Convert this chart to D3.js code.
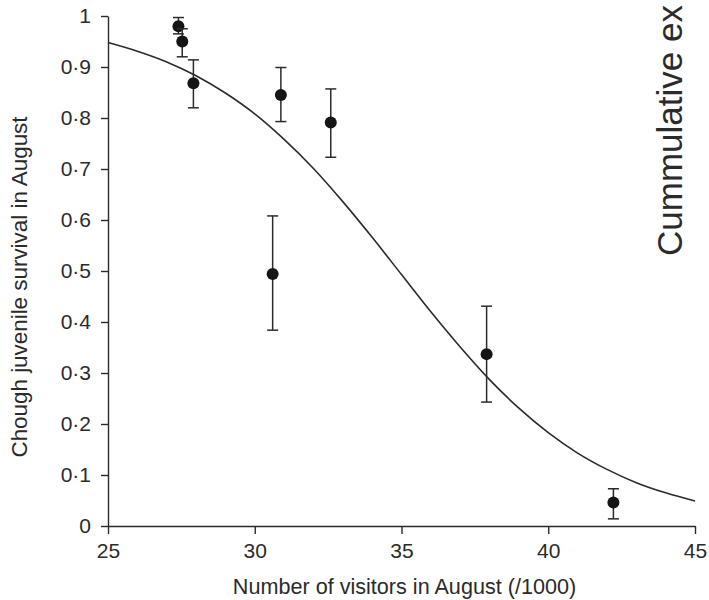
<!DOCTYPE html>
<html>
<head>
<meta charset="utf-8">
<script src="https://cdn.jsdelivr.net/npm/d3@7"></script>
<style>
  body { margin: 0; background: #fff; }
  svg { display: block; font-family: "Liberation Sans", Arial, sans-serif; }
</style>
</head>
<body>
<div id="chart"></div>
<script>
const WIDTH = 709;
const HEIGHT = 600;
const LEFT = 108;
const RIGHT = 695;
const TOP = 16;
const BOTTOM = 526;
const INK = '#2b2b2b';

// observed survival per year, with error bars
const visitors = [27.40, 27.53, 27.91, 30.61, 30.89, 32.59, 37.90, 42.22];
const survival = [0.980, 0.950, 0.868, 0.494, 0.845, 0.791, 0.337, 0.046];
const lowerBar = [0.965, 0.920, 0.820, 0.384, 0.793, 0.723, 0.243, 0.014];
const upperBar = [0.997, 0.975, 0.914, 0.608, 0.899, 0.857, 0.431, 0.073];

// fitted curve
const curveVisitors = [25, 26, 27, 28, 29, 30, 31, 32, 33, 34, 35, 36, 37, 38, 39, 40, 41, 42, 43, 44, 45];
const curveSurvival = [0.948, 0.931, 0.910, 0.883, 0.849, 0.808, 0.758, 0.701, 0.636, 0.566, 0.493,
                       0.420, 0.351, 0.287, 0.231, 0.183, 0.143, 0.111, 0.085, 0.065, 0.049];

const xTicks = [25, 30, 35, 40, 45];
const yTicks = [0, 0.1, 0.2, 0.3, 0.4, 0.5, 0.6, 0.7, 0.8, 0.9, 1];
const yTickLabels = ['0', '0·1', '0·2', '0·3', '0·4', '0·5', '0·6', '0·7', '0·8', '0·9', '1'];

const xTitle = 'Number of visitors in August (/1000)';
const yTitle = 'Chough juvenile survival in August';
const sideTitle = 'Cummulative ex';

let svg = d3.select('#chart').append('svg')
  .attr('width', WIDTH)
  .attr('height', HEIGHT);

let xScale = d3.scaleLinear().domain([25, 45]).range([LEFT, RIGHT]);
let yScale = d3.scaleLinear().domain([0, 1]).range([BOTTOM, TOP]);

function styleAxis(g, size) {
  g.selectAll('path, line')
    .attr('stroke', INK)
    .attr('stroke-width', 1.4);
  g.selectAll('text')
    .attr('fill', INK)
    .style('font-size', size + 'px');
}

let xAxis = d3.axisBottom(xScale)
  .tickValues(xTicks)
  .tickFormat(d3.format('d'))
  .tickSize(8)
  .tickSizeOuter(0)
  .tickPadding(9);

let yAxis = d3.axisLeft(yScale)
  .tickValues(yTicks)
  .tickFormat((d, i) => yTickLabels[i])
  .tickSize(7)
  .tickSizeOuter(0)
  .tickPadding(10);

svg.append('g')
  .attr('class', 'xAxis')
  .attr('transform', `translate(0, ${BOTTOM})`)
  .call(xAxis)
  .call((g) => styleAxis(g, 21));

svg.append('g')
  .attr('class', 'yAxis')
  .attr('transform', `translate(${LEFT}, 0)`)
  .call(yAxis)
  .call((g) => styleAxis(g, 21));

// fitted line
let line = d3.line()
  .x((d, i) => xScale(curveVisitors[i]))
  .y((d) => yScale(d))
  .curve(d3.curveMonotoneX);

svg.append('path')
  .datum(curveSurvival)
  .attr('d', line)
  .attr('fill', 'none')
  .attr('stroke', INK)
  .attr('stroke-width', 1.6);

// error bars + points
let pts = svg.append('g').attr('class', 'points')
  .selectAll('g')
  .data(visitors)
  .enter()
  .append('g');

pts.append('line')
  .attr('x1', (d) => xScale(d))
  .attr('x2', (d) => xScale(d))
  .attr('y1', (d, i) => yScale(lowerBar[i]))
  .attr('y2', (d, i) => yScale(upperBar[i]))
  .attr('stroke', INK)
  .attr('stroke-width', 1.5);

[lowerBar, upperBar].forEach((bar) => {
  pts.append('line')
    .attr('x1', (d) => xScale(d) - 5.5)
    .attr('x2', (d) => xScale(d) + 5.5)
    .attr('y1', (d, i) => yScale(bar[i]))
    .attr('y2', (d, i) => yScale(bar[i]))
    .attr('stroke', INK)
    .attr('stroke-width', 1.5);
});

pts.append('circle')
  .attr('cx', (d) => xScale(d))
  .attr('cy', (d, i) => yScale(survival[i]))
  .attr('r', 6)
  .attr('fill', '#151515');

// titles
svg.append('text')
  .attr('x', (LEFT + RIGHT) / 2 + 3)
  .attr('y', 594)
  .attr('text-anchor', 'middle')
  .attr('fill', INK)
  .style('font-size', '21.6px')
  .text(xTitle);

svg.append('text')
  .attr('transform', 'translate(27, 287) rotate(-90)')
  .attr('text-anchor', 'middle')
  .attr('fill', INK)
  .style('font-size', '22.4px')
  .text(yTitle);

svg.append('text')
  .attr('transform', 'translate(682, 256) rotate(-90)')
  .attr('text-anchor', 'start')
  .attr('fill', INK)
  .style('font-size', '35px')
  .text(sideTitle);
</script>
</body>
</html>
